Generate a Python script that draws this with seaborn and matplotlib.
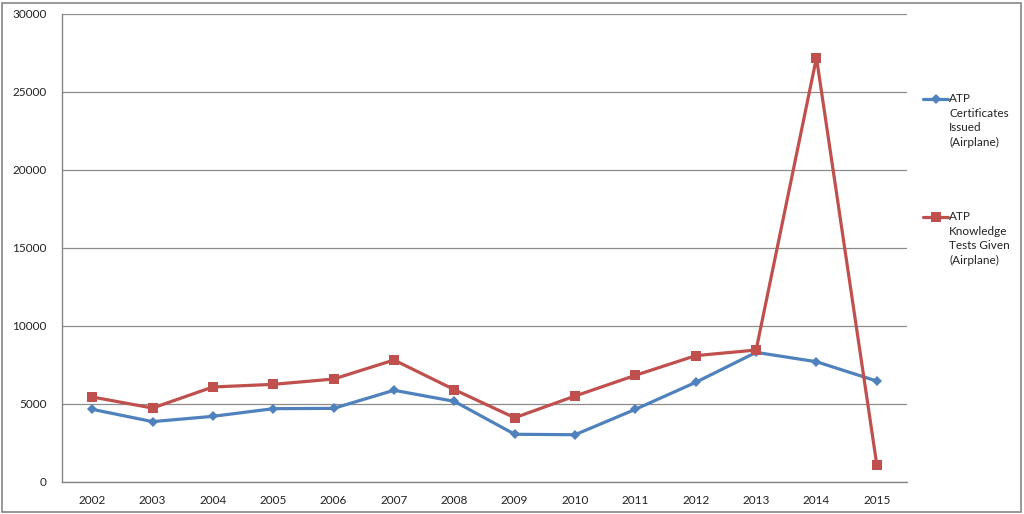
import matplotlib
matplotlib.use("Agg")
import matplotlib.pyplot as plt
from matplotlib.lines import Line2D
from matplotlib.patches import Rectangle
from matplotlib.ticker import FixedLocator, NullFormatter
import seaborn as sns
import pandas as pd

years = [2002, 2003, 2004, 2005, 2006, 2007, 2008, 2009, 2010, 2011, 2012, 2013, 2014, 2015]
certificates = [4660, 3870, 4210, 4700, 4720, 5880, 5170, 3060, 3030, 4660, 6390, 8310, 7710, 6470]
knowledge_tests = [5450, 4740, 6090, 6260, 6600, 7820, 5920, 4120, 5510, 6840, 8100, 8460, 27200, 1090]
series_names = ["ATP\nCertificates\nIssued\n(Airplane)", "ATP\nKnowledge\nTests Given\n(Airplane)"]
y_ticks = [0, 5000, 10000, 15000, 20000, 25000, 30000]

colors = ["#4F81BD", "#C0504D"]
markers = ["D", "s"]

df = pd.DataFrame({
    "year": years * 2,
    "value": certificates + knowledge_tests,
    "series": [series_names[0]] * len(years) + [series_names[1]] * len(years),
})

sns.set_style("white")
plt.rcParams["font.family"] = ["Lato", "DejaVu Sans"]

fig = plt.figure(figsize=(10.24, 5.14), dpi=100)
ax = fig.add_axes([62 / 1024, 32 / 514, 845 / 1024, 468 / 514])

sns.lineplot(data=df, x="year", y="value", hue="series", style="series",
             palette=colors, markers=markers, dashes=False, linewidth=2.3,
             markersize=6.5, markeredgewidth=0, ax=ax, legend=False)
for line, ms in zip(ax.lines, [5.5, 7.5]):
    line.set_markersize(ms)

ax.set_xlim(years[0] - 0.5, years[-1] + 0.5)
ax.set_ylim(y_ticks[0], y_ticks[-1])
ax.set_yticks(y_ticks)
ax.set_yticklabels([str(v) for v in y_ticks])
ax.set_xticks(years)
ax.set_xticklabels([str(y) for y in years])
ax.xaxis.set_minor_locator(FixedLocator([y - 0.5 for y in years] + [years[-1] + 0.5]))
ax.xaxis.set_minor_formatter(NullFormatter())
ax.tick_params(axis="x", which="major", length=0, pad=9, labelsize=8.5, labelcolor="#222222")
ax.tick_params(axis="x", which="minor", length=5, color="#868686", width=1, direction="out")
ax.tick_params(axis="y", which="major", length=5, color="#868686", width=1, direction="out",
               pad=6, labelsize=8.5, labelcolor="#222222")
ax.set_xlabel("")
ax.set_ylabel("")
ax.grid(axis="y", color="#8c8c8c", linewidth=0.9)
ax.set_axisbelow(True)
for side in ["top", "right"]:
    ax.spines[side].set_visible(False)
for side in ["left", "bottom"]:
    ax.spines[side].set_color("#868686")
    ax.spines[side].set_linewidth(1)

# legend (Excel-style, marker aligned with first text line)
legend_tops = [99, 217]
for name, color, marker, ms, ytop in zip(series_names, colors, markers, [5.5, 7.5], legend_tops):
    yf = 1 - ytop / 514
    fig.add_artist(Line2D([923 / 1024, 948 / 1024], [yf, yf], transform=fig.transFigure,
                          color=color, linewidth=2.3))
    fig.add_artist(Line2D([935.5 / 1024], [yf], transform=fig.transFigure,
                          color=color, marker=marker, markersize=ms, markeredgewidth=0,
                          linestyle="none"))
    fig.text(949 / 1024, yf + 6 / 514, name, ha="left", va="top", fontsize=8.5,
             color="#222222", linespacing=1.4)

# outer border
fig.add_artist(Rectangle((2 / 1024, 2 / 514), 1019 / 1024, 509 / 514, transform=fig.transFigure,
                         fill=False, edgecolor="#868686", linewidth=1.2))

fig.savefig("out.png", dpi=100)
